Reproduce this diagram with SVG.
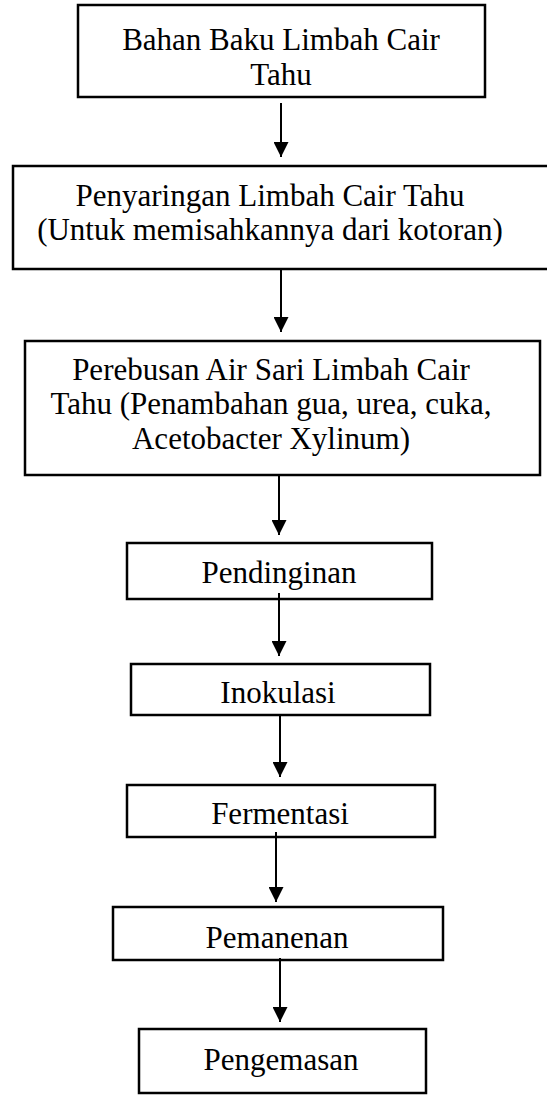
<svg xmlns="http://www.w3.org/2000/svg" width="547" height="1096" viewBox="0 0 547 1096">
<style>
.box{fill:#fff;stroke:#000;stroke-width:2.5}
.t{font-family:"Liberation Serif","Times New Roman",serif;font-size:31px;fill:#000;text-anchor:middle}
.c{stroke:#000;stroke-width:2;fill:none;marker-end:url(#ah)}
</style>
<defs>
<marker id="ah" markerUnits="userSpaceOnUse" markerWidth="15" markerHeight="15" viewBox="0 0 15 15" refX="15" refY="7.5" orient="auto">
<path d="M0 0 L15 7.5 L0 15 Z" fill="#000"/>
</marker>
</defs>
<rect width="547" height="1096" fill="#fff"/>
<g id="n1"><rect class="box" x="78" y="5" width="407" height="92"/>
<text class="t" x="281" y="50">Bahan Baku Limbah Cair</text><text class="t" x="281" y="85">Tahu</text></g>
<g id="n2"><rect class="box" x="13" y="166" width="545" height="103"/>
<text class="t" x="270" y="206">Penyaringan Limbah Cair Tahu</text><text class="t" x="270" y="240">(Untuk memisahkannya dari kotoran)</text></g>
<g id="n3"><rect class="box" x="25" y="341" width="515" height="134"/>
<text class="t" x="271" y="380">Perebusan Air Sari Limbah Cair</text><text class="t" x="271" y="414">Tahu (Penambahan gua, urea, cuka,</text><text class="t" x="271" y="449">Acetobacter Xylinum)</text></g>
<g id="n4"><rect class="box" x="127" y="543" width="305" height="56"/><text class="t" x="279" y="583">Pendinginan</text></g>
<g id="n5"><rect class="box" x="131" y="664" width="299" height="51"/><text class="t" x="278" y="703">Inokulasi</text></g>
<g id="n6"><rect class="box" x="127" y="785" width="308" height="52"/><text class="t" x="280" y="824">Fermentasi</text></g>
<g id="n7"><rect class="box" x="113" y="907" width="330" height="53"/><text class="t" x="277" y="948">Pemanenan</text></g>
<g id="n8"><rect class="box" x="139" y="1029" width="287" height="64"/><text class="t" x="281" y="1070">Pengemasan</text></g>
<g id="connectors">
<line class="c" x1="281" y1="103" x2="281" y2="157"/>
<line class="c" x1="281" y1="270" x2="281" y2="332"/>
<line class="c" x1="279" y1="476" x2="279" y2="535"/>
<line class="c" x1="279" y1="593" x2="279" y2="656"/>
<line class="c" x1="280" y1="715" x2="280" y2="777"/>
<line class="c" x1="276" y1="832" x2="276" y2="902"/>
<line class="c" x1="280" y1="958" x2="280" y2="1022"/>
</g>
</svg>
